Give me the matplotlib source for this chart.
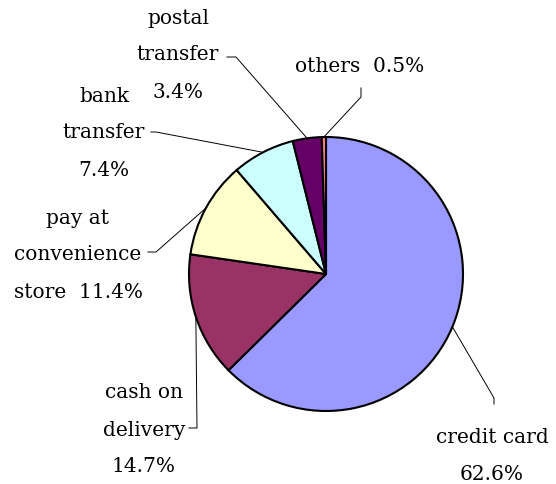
import numpy as np
import matplotlib
matplotlib.use("Agg")
import matplotlib.pyplot as plt

# payment methods, clockwise from 12 o'clock
names = ["credit card", "cash on\ndelivery", "pay at\nconvenience\nstore", "bank\ntransfer", "postal\ntransfer", "others"]
shares = [62.6, 14.7, 11.4, 7.4, 3.4, 0.5]
colors = ["#9999FF", "#993366", "#FFFFCC", "#CCFFFF", "#660066", "#FF8080"]
# separator between name and percentage ("\n" or two spaces)
seps = ["\n", "\n", "  ", "\n", "\n", "  "]

W, H = 556, 484

def px(x, y):
    # pixel coords (y down) -> data coords (y up)
    return x, H - y

# label layout in pixels: text centre, elbow, end of leader next to text
layout = [
    ((492, 456), (494, 398), (494, 404)),
    ((144, 430), (197, 428), (189, 428)),
    ((78, 255), (156, 252), (148, 252)),
    ((104, 133), (156, 132), (151, 132)),
    ((178, 55), (236, 57), (227, 57)),
    ((360, 67), (361, 97), (361, 88)),
]

fig = plt.figure(figsize=(W / 100, H / 100), dpi=100)
ax = fig.add_axes([0, 0, 1, 1])

cx, cy = px(326, 274)
r = 137
wedges, _ = ax.pie(shares, colors=colors, startangle=90, counterclock=False,
                   center=(cx, cy), radius=r, frame=True,
                   wedgeprops=dict(edgecolor="black", linewidth=1.5))
ax.set_xlim(0, W)
ax.set_ylim(0, H)
ax.set_aspect("equal")
ax.axis("off")

for w, name, v, sep, (tpos, elbow, end) in zip(wedges, names, shares, seps, layout):
    mid = np.deg2rad((w.theta1 + w.theta2) / 2)
    ex, ey = cx + r * np.cos(mid), cy + r * np.sin(mid)
    xs = [ex, px(*elbow)[0], px(*end)[0]]
    ys = [ey, px(*elbow)[1], px(*end)[1]]
    ax.plot(xs, ys, color="black", linewidth=0.7)
    ax.text(*px(*tpos), f"{name}{sep}{v:.1f}%", ha="center", va="center",
            multialignment="center", fontsize=14.5, family="DejaVu Serif",
            linespacing=2.2)

fig.savefig("out.png", dpi=100)
